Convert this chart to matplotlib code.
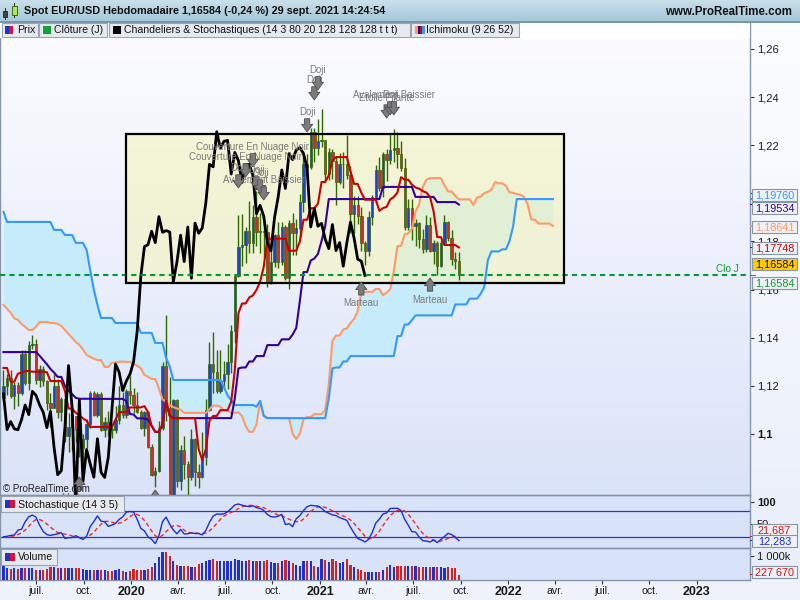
import numpy as np
import pandas as pd
import matplotlib
matplotlib.use('Agg')
import matplotlib.pyplot as plt
import matplotlib.dates as mdates
from matplotlib.patches import Rectangle
from matplotlib.colors import LinearSegmentedColormap

plt.rcParams['font.family'] = ['Liberation Sans', 'DejaVu Sans']

# ---------------- data (weekly EUR/USD) ----------------
first_week = '2019-04-29'
opens = [
    1.1150, 1.1200, 1.1234, 1.1157, 1.1204, 1.1169, 1.1333, 1.1210, 1.1369, 1.1372,
    1.1226, 1.1271, 1.1219, 1.1127, 1.1108, 1.1199, 1.1091, 1.1143, 1.0990, 1.1029,
    1.1075, 1.1017, 1.0940, 1.0979, 1.1040, 1.1172, 1.1080, 1.1166, 1.1018, 1.1051,
    1.1021, 1.1017, 1.1059, 1.1120, 1.1080, 1.1177, 1.1160, 1.1120, 1.1090, 1.1026,
    1.1093, 1.0944, 1.0830, 1.0847, 1.1026, 1.1284, 1.1106, 1.0694, 1.1141, 1.0803,
    1.0935, 1.0875, 1.0820, 1.0980, 1.0840, 1.0819, 1.0902, 1.1100, 1.1290, 1.1256,
    1.1180, 1.1220, 1.1248, 1.1300, 1.1428, 1.1656, 1.1778, 1.1787, 1.1842, 1.1795,
    1.1903, 1.1838, 1.1845, 1.1839, 1.1633, 1.1715, 1.1826, 1.1716, 1.1860, 1.1647,
    1.1876, 1.1834, 1.1856, 1.1962, 1.2121, 1.2110, 1.2256, 1.2187, 1.2216, 1.2220,
    1.2080, 1.2170, 1.2136, 1.2045, 1.2120, 1.2120, 1.2075, 1.1915, 1.1950, 1.1905,
    1.1795, 1.1761, 1.1900, 1.1985, 1.2097, 1.2020, 1.2165, 1.2140, 1.2180, 1.2190,
    1.2165, 1.2105, 1.1860, 1.1937, 1.1863, 1.1875, 1.1810, 1.1770, 1.1870, 1.1762,
    1.1795, 1.1697, 1.1795, 1.1880, 1.1814, 1.1726, 1.1718]
highs = [
    1.1265, 1.1250, 1.1264, 1.1215, 1.1215, 1.1348, 1.1348, 1.1385, 1.1412, 1.1393,
    1.1286, 1.1282, 1.1225, 1.1168, 1.1250, 1.1230, 1.1153, 1.1165, 1.1085, 1.1110,
    1.1075, 1.1025, 1.0998, 1.1063, 1.1179, 1.1179, 1.1176, 1.1175, 1.1069, 1.1097,
    1.1034, 1.1116, 1.1200, 1.1176, 1.1188, 1.1239, 1.1191, 1.1173, 1.1100, 1.1096,
    1.1095, 1.0960, 1.0863, 1.1053, 1.1300, 1.1495, 1.1236, 1.1147, 1.1145, 1.0953,
    1.0990, 1.0887, 1.1019, 1.0981, 1.0876, 1.1009, 1.1147, 1.1384, 1.1422, 1.1349,
    1.1349, 1.1303, 1.1372, 1.1452, 1.1659, 1.1908, 1.1916, 1.1860, 1.1966, 1.1950,
    1.2011, 1.1917, 1.1900, 1.1872, 1.1780, 1.1831, 1.1880, 1.1881, 1.1870, 1.1891,
    1.1920, 1.1894, 1.1997, 1.2177, 1.2163, 1.2273, 1.2272, 1.2310, 1.2349, 1.2223,
    1.2190, 1.2185, 1.2149, 1.2169, 1.2170, 1.2243, 1.2114, 1.1990, 1.1990, 1.1945,
    1.1800, 1.1928, 1.1994, 1.2117, 1.2150, 1.2173, 1.2183, 1.2245, 1.2266, 1.2254,
    1.2218, 1.2145, 1.1975, 1.1975, 1.1895, 1.1880, 1.1850, 1.1909, 1.1900, 1.1806,
    1.1802, 1.1806, 1.19088, 1.1885, 1.1849, 1.1754, 1.1755]
lows = [
    1.1135, 1.1160, 1.1150, 1.1105, 1.1116, 1.1160, 1.1202, 1.1181, 1.1351, 1.1208,
    1.1193, 1.1201, 1.1101, 1.1027, 1.1108, 1.1066, 1.1052, 1.0965, 1.0926, 1.0927,
    1.0966, 1.0904, 1.0879, 1.0940, 1.1025, 1.1073, 1.1070, 1.1013, 1.0989, 1.0993,
    1.0981, 1.1003, 1.1040, 1.1065, 1.1066, 1.1125, 1.1086, 1.1085, 1.1019, 1.0992,
    1.0940, 1.0827, 1.0778, 1.0840, 1.1015, 1.1055, 1.0654, 1.0636, 1.0780, 1.0768,
    1.0812, 1.0727, 1.0810, 1.0782, 1.0775, 1.0815, 1.0870, 1.1095, 1.1168, 1.1168,
    1.1168, 1.1185, 1.1186, 1.1254, 1.1376, 1.1653, 1.1696, 1.1711, 1.1752, 1.1753,
    1.1782, 1.1752, 1.1737, 1.1612, 1.1625, 1.1695, 1.1689, 1.1703, 1.1640, 1.1603,
    1.1745, 1.1745, 1.1800, 1.1923, 1.2058, 1.2100, 1.2130, 1.2160, 1.2192, 1.2054,
    1.2055, 1.2058, 1.1952, 1.2040, 1.2023, 1.2060, 1.1835, 1.1836, 1.1874, 1.1762,
    1.1704, 1.1741, 1.1868, 1.1961, 1.2010, 1.1985, 1.2051, 1.2122, 1.2130, 1.2104,
    1.2093, 1.1847, 1.1848, 1.1806, 1.1782, 1.1772, 1.1752, 1.1755, 1.1754, 1.1705,
    1.1661, 1.1692, 1.1792, 1.1801, 1.1700, 1.1684, 1.16408]
closes = [
    1.1200, 1.1234, 1.1157, 1.1204, 1.1169, 1.1333, 1.1210, 1.1369, 1.1372, 1.1226,
    1.1271, 1.1219, 1.1127, 1.1108, 1.1199, 1.1091, 1.1143, 1.0990, 1.1029, 1.1075,
    1.1017, 1.0940, 1.0979, 1.1040, 1.1172, 1.1080, 1.1166, 1.1018, 1.1051, 1.1021,
    1.1017, 1.1059, 1.1120, 1.1080, 1.1177, 1.1160, 1.1120, 1.1090, 1.1026, 1.1093,
    1.0944, 1.0830, 1.0847, 1.1026, 1.1284, 1.1106, 1.0694, 1.1141, 1.0803, 1.0935,
    1.0875, 1.0820, 1.0980, 1.0840, 1.0819, 1.0902, 1.1100, 1.1290, 1.1256, 1.1180,
    1.1220, 1.1248, 1.1300, 1.1428, 1.1656, 1.1778, 1.1787, 1.1842, 1.1795, 1.1903,
    1.1838, 1.1845, 1.1839, 1.1633, 1.1715, 1.1826, 1.1716, 1.1860, 1.1647, 1.1876,
    1.1834, 1.1856, 1.1962, 1.2121, 1.2110, 1.2256, 1.2187, 1.2216, 1.2220, 1.2080,
    1.2170, 1.2136, 1.2045, 1.2120, 1.2120, 1.2075, 1.1915, 1.1950, 1.1905, 1.1795,
    1.1761, 1.1900, 1.1985, 1.2097, 1.2020, 1.2165, 1.2140, 1.2180, 1.2190, 1.2165,
    1.2105, 1.1860, 1.1937, 1.1863, 1.1875, 1.1810, 1.1770, 1.1870, 1.1762, 1.1795,
    1.1697, 1.1795, 1.1880, 1.1814, 1.1726, 1.1718, 1.16584]
volumes = [
    583000, 486000, 458000, 486000, 444000, 514000, 514000, 486000, 514000, 417000,
    417000, 417000, 444000, 556000, 528000, 486000, 514000, 514000, 514000, 514000,
    514000, 500000, 444000, 417000, 417000, 417000, 417000, 417000, 417000, 389000,
    375000, 417000, 444000, 389000, 319000, 375000, 444000, 417000, 417000, 417000,
    444000, 556000, 722000, 972000, 1181000, 1181000, 1000000, 806000, 625000, 583000,
    583000, 583000, 556000, 528000, 667000, 722000, 792000, 833000, 861000, 806000,
    778000, 792000, 806000, 806000, 875000, 833000, 806000, 806000, 833000, 806000,
    806000, 778000, 806000, 833000, 764000, 722000, 722000, 806000, 833000, 806000,
    694000, 625000, 583000, 806000, 806000, 778000, 583000, 556000, 861000, 833000,
    764000, 861000, 806000, 722000, 764000, 861000, 625000, 528000, 444000, 417000,
    347000, 347000, 347000, 347000, 347000, 417000, 556000, 625000, 556000, 583000,
    583000, 583000, 583000, 583000, 583000, 556000, 528000, 528000, 528000, 528000,
    528000, 528000, 514000, 528000, 500000, 486000, 227670]

tenkan_early = [1.1274, 1.1274, 1.1217, 1.1217, 1.1250, 1.1255, 1.1260, 1.1262]
kijun_early = [1.1340, 1.1340, 1.1340, 1.1340, 1.1340, 1.1340, 1.1340, 1.1340, 1.1340, 1.1340,
               1.1325, 1.1307, 1.1290, 1.1270, 1.1255, 1.1237, 1.1237, 1.1200, 1.1180, 1.1165,
               1.1150, 1.1146, 1.1146, 1.1146, 1.1146]
span_a_early = [1.1536, 1.1520, 1.1503, 1.1480, 1.1474, 1.1457, 1.1445, 1.1432, 1.1432, 1.1445,
                1.1465, 1.1465, 1.1465, 1.1461, 1.1461, 1.1457, 1.1449, 1.1432, 1.1415, 1.1399,
                1.1382, 1.1370, 1.1350, 1.1328, 1.1320, 1.1312]
span_b_early = [1.1923,
                1.1881, 1.1881, 1.1881, 1.1881, 1.1881, 1.1881, 1.1881, 1.1881, 1.1881, 1.1881,
                1.1881, 1.1881, 1.1881,
                1.1848, 1.1848, 1.1848, 1.1827, 1.1827, 1.1827, 1.1794, 1.1794, 1.1794,
                1.1765, 1.1680, 1.1600, 1.1536,
                1.1482, 1.1482, 1.1482, 1.1482,
                1.1461, 1.1461, 1.1461, 1.1461, 1.1461, 1.1461, 1.1461,
                1.1420, 1.1420, 1.1420, 1.1420, 1.1378, 1.1378, 1.1378, 1.1316, 1.1280,
                1.1224, 1.1224, 1.1224, 1.1224, 1.1224, 1.1224, 1.1224, 1.1224, 1.1224, 1.1224,
                1.1224, 1.1224, 1.1224, 1.1224,
                1.1195, 1.1160, 1.1140, 1.1120, 1.1120, 1.1120, 1.1120, 1.1120, 1.1120,
                1.1113, 1.1137, 1.1075, 1.1066, 1.1066, 1.1066, 1.1066]
stoch_k_early = [21, 22, 24, 25, 36, 38, 55, 66, 70, 65, 47, 33, 26, 24, 26]
stoch_d_early = [21, 21, 22, 23, 26, 30, 36, 45, 54, 60, 60, 56, 50, 43, 36, 31, 28, 27, 26]

# patterns: (week index, arrow tip price, label, direction)
patterns = [
    (84, 1.2255, 'Doji', 'down'),
    (86, 1.2388, 'Doji', 'down'),
    (87, 1.2430, 'Doji', 'down'),
    (106, 1.2313, 'Etoile Filante', 'down'),
    (107, 1.2326, 'Doji', 'down'),
    (108, 1.2326, 'Avalement Baissier', 'down'),
    (65, 1.2022, 'Doji', 'down'),
    (67, 1.2068, 'Couverture En Nuage Noir', 'down'),
    (69, 1.2110, 'Couverture En Nuage Noir', 'down'),
    (70, 1.2014, 'Doji', 'down'),
    (71, 1.2001, 'Doji', 'down'),
    (72, 1.1972, 'Avalement Baissier', 'down'),
    (99, 1.1632, 'Marteau', 'up'),
    (118, 1.1648, 'Marteau', 'up'),
    (21, 1.0821, 'Marteau', 'up'),
    (42, 1.0767, 'Marteau', 'up'),
]
box_dates = ('2019-12-23', '2022-04-18')
box_prices = (1.1627, 1.2247)

tick_dates = ['2019-07-01', '2019-10-01', '2020-01-01', '2020-04-01', '2020-07-01', '2020-10-01',
              '2021-01-01', '2021-04-01', '2021-07-01', '2021-10-01', '2022-01-01', '2022-04-01',
              '2022-07-01', '2022-10-01', '2023-01-01']
tick_labels = ['juil.', 'oct.', '2020', 'avr.', 'juil.', 'oct.', '2021', 'avr.', 'juil.', 'oct.',
               '2022', 'avr.', 'juil.', 'oct.', '2023']

# ---------------- indicators ----------------
O = np.array(opens); Hh = np.array(highs); Ll = np.array(lows); C = np.array(closes)
n = len(C)
m = n + 26

def midpoint(i, p):
    return (Hh[i - p + 1:i + 1].max() + Ll[i - p + 1:i + 1].min()) / 2

tenkan = np.array([tenkan_early[i] if i < 8 else midpoint(i, 9) for i in range(n)])
kijun = np.array([kijun_early[i] if i < 25 else midpoint(i, 26) for i in range(n)])
span_a = np.array([span_a_early[j] if j < 26 else (tenkan[j - 26] + kijun[j - 26]) / 2 for j in range(m)])
span_b = np.array([span_b_early[j] if j < 77 else midpoint(j - 26, 52) for j in range(m)])

raw = np.full(n, np.nan)
for i in range(13, n):
    hh = Hh[i - 13:i + 1].max(); ll = Ll[i - 13:i + 1].min()
    raw[i] = 100 * (C[i] - ll) / (hh - ll)
stoch_k = np.array([stoch_k_early[i] if i < 15 else raw[i - 2:i + 1].mean() for i in range(n)], dtype=float)
stoch_d = np.array([stoch_d_early[i] if i < 19 else stoch_k[i - 4:i + 1].mean() for i in range(n)], dtype=float)

x = mdates.date2num(pd.date_range(first_week, periods=n, freq='7D').to_pydatetime())
x_ab = mdates.date2num(pd.date_range(first_week, periods=m, freq='7D').to_pydatetime())

# ---------------- figure ----------------
W, HP = 800.0, 600.0
fig = plt.figure(figsize=(8, 6), dpi=100)
fig.patch.set_facecolor('#eef2fa')

def px_axes(x0, y0, x1, y1, **kw):
    return fig.add_axes([x0 / W, 1 - y1 / HP, (x1 - x0) / W, (y1 - y0) / HP], **kw)

def grad_axes(x0, y0, x1, y1, top, bottom):
    a = px_axes(x0, y0, x1, y1)
    cmap = LinearSegmentedColormap.from_list('g', [bottom, top])
    a.imshow(np.linspace(0, 1, 256).reshape(-1, 1), cmap=cmap, aspect='auto',
             origin='lower', extent=[0, 1, 0, 1])
    a.set_axis_off()
    return a

def frect(x0, y0, x1, y1, **kw):
    r = Rectangle((x0 / W, 1 - y1 / HP), (x1 - x0) / W, (y1 - y0) / HP,
                  transform=fig.transFigure, **kw)
    fig.patches.append(r)
    return r

def ftext(xp, yp, s, **kw):
    return fig.text(xp / W, 1 - yp / HP, s, **kw)

grad_axes(0, 22, 750, 495, '#fdfdff', '#dbe3f9')
grad_axes(0, 495, 750, 580, '#dae4f9', '#d8e2f8')
grad_axes(750, 22, 800, 580, '#fcfdff', '#e8eefa')
grad_axes(0, 0, 800, 22, '#c9e0ea', '#a3c7d8')

ax = px_axes(0, 22, 750, 495)
ax_s = px_axes(0, 495, 750, 548)
ax_v = px_axes(0, 548, 750, 580)
spine_col = '#8596aa'
for a in (ax, ax_s, ax_v):
    a.set_facecolor('none')
    for s in a.spines.values():
        s.set_color(spine_col)
        s.set_linewidth(1.0)
ax.spines['top'].set_visible(False)

# cloud
ax.fill_between(x_ab, span_a, span_b, color='#c6ecfc', lw=0, zorder=1)
# box
bx0, bx1 = mdates.date2num(pd.Timestamp(box_dates[0])), mdates.date2num(pd.Timestamp(box_dates[1]))
ax.add_patch(Rectangle((bx0, box_prices[0]), bx1 - bx0, box_prices[1] - box_prices[0],
                       facecolor='#f4f4bc', alpha=0.6, lw=0, zorder=2))
# candles
up = C >= O
wick = '#2e6a00'
ax.vlines(x, Ll, Hh, color=wick, lw=1.0, zorder=3)
body = np.where(np.abs(C - O) < 1e-9, 0.00012, C - O)
ax.bar(x, body, bottom=O, width=4.6, color=['#1f3fd6' if u else '#d62a2a' for u in up],
       edgecolor=wick, linewidth=0.5, zorder=3.2)
# ichimoku lines
ax.plot(x_ab, span_a, color='#ff9966', lw=1.5, zorder=4)
ax.plot(x_ab, span_b, color='#3399ff', lw=1.5, zorder=4)
ax.plot(x, kijun, color='#330099', lw=1.5, zorder=4.1)
ax.plot(x, tenkan, color='#cc0000', lw=1.5, zorder=4.1)
ax.plot(x[:n - 26], C[26:], color='black', lw=2.0, zorder=4.3)
ax.add_patch(Rectangle((bx0, box_prices[0]), bx1 - bx0, box_prices[1] - box_prices[0],
                       fill=False, edgecolor='black', lw=1.6, zorder=4.5))
ax.axhline(C[-1], color='#009933', lw=1.5, ls=(0, (2.5, 2.0)), zorder=4.4)

# candle pattern markers
for idx, tip, label, d in patterns:
    sgn = 1 if d == 'down' else -1
    ann = ax.annotate('', xy=(x[idx], tip), xytext=(0, sgn * 9.5), textcoords='offset points',
                      arrowprops=dict(arrowstyle='simple,head_length=0.55,head_width=0.8,tail_width=0.38',
                                      fc='#7c7c7c', ec='#4d4d4d', lw=0.6, mutation_scale=10,
                                      shrinkA=0, shrinkB=0),
                      zorder=6, annotation_clip=True)
    ann.arrow_patch.set_clip_path(ax.patch)
    ax.annotate(label, xy=(x[idx], tip), xytext=(0, sgn * (14.6 if d == 'down' else 15.5)),
                textcoords='offset points', ha='center', va='center', fontsize=6.9,
                color='#7a7a7a', zorder=6, clip_on=True)

# limits
xl = (mdates.date2num(pd.Timestamp('2019-04-22 07:00')), mdates.date2num(pd.Timestamp('2023-04-13 17:00')))
for a in (ax, ax_s, ax_v):
    a.set_xlim(*xl)
ax.set_ylim(1.0746, 1.2712)

# stochastic
ax_s.axhline(80, color='#2b35c8', lw=0.9, zorder=2)
ax_s.axhline(20, color='#2b35c8', lw=0.9, zorder=2)
ax_s.plot(x, stoch_d, color='#f02828', lw=1.0, ls=(0, (3, 2)), zorder=3)
ax_s.plot(x, stoch_k, color='#1c2ce0', lw=1.0, zorder=4)
ax_s.set_ylim(-4.3, 115.3)

# volume
ax_v.bar(x, volumes, width=4.3, color=['#1f2fd8' if u else '#d82222' for u in up], lw=0, zorder=3)
ax_v.set_ylim(0, 1.333e6)

# right axis ticks
def fmt_price(v):
    return ('%.2f' % v).rstrip('0').rstrip('.').replace('.', ',')

yt = [1.10, 1.12, 1.14, 1.16, 1.18, 1.20, 1.22, 1.24, 1.26]
for a in (ax, ax_s, ax_v):
    a.yaxis.tick_right()
    a.tick_params(axis='y', direction='out', length=3, width=0.8, color='#333333', pad=2,
                  labelsize=8, labelcolor='#1a1a1a')
ax.set_yticks(yt)
# the 1,2 label sits entirely under the value boxes, as in the original
labs = ax.set_yticklabels(['' if abs(v - 1.2) < 1e-9 else fmt_price(v) for v in yt])
for t, v in zip(labs, yt):
    if abs(v - 1.1) < 1e-9:
        t.set_fontweight('bold')
ax_s.set_yticks([50, 100])
sl = ax_s.set_yticklabels(['50', '100'])
sl[1].set_fontweight('bold')
ax_v.set_yticks([1e6])
ax_v.set_yticklabels(['1 000k'])

for a in (ax, ax_s):
    a.set_xticks([])
td = [mdates.date2num(pd.Timestamp(d)) for d in tick_dates]
ax_v.set_xticks(td)
xlabs = ax_v.set_xticklabels(tick_labels)
for t in xlabs:
    if t.get_text().isdigit():
        t.set_fontweight('bold'); t.set_fontsize(9)
    else:
        t.set_fontsize(7.6)
ax_v.tick_params(axis='x', direction='out', length=3, width=0.8, color='#333333', pad=1.5,
                 labelcolor='#1a1a1a')

# ---------------- overlays ----------------
# legend row
frect(0, 22, 750, 37.5, facecolor='white', edgecolor='none')
box_face, box_edge = '#e6eaf0', '#9aa5b1'
items = [(2, 38, 'Prix'), (39, 107, 'Clôture (J)'),
         (109, 410, 'Chandeliers & Stochastiques (14 3 80 20 128 128 128 t t t)'),
         (411, 519, 'Ichimoku (9 26 52)')]
for k, (a0, a1, s) in enumerate(items):
    frect(a0, 23, a1, 37, facecolor=box_face, edgecolor=box_edge, lw=0.8)
    ix = a0 + 3
    if k == 0:
        frect(ix, 26, ix + 4, 34, facecolor='#2233cc', edgecolor='none')
        frect(ix + 4, 26, ix + 8, 34, facecolor='#dd1133', edgecolor='none')
    elif k == 1:
        frect(ix + 1, 26, ix + 9, 34, facecolor='#12a03a', edgecolor='none')
    elif k == 2:
        frect(ix + 1, 26, ix + 9, 34, facecolor='black', edgecolor='none')
    else:
        for q, c in enumerate(['#ff9966', '#330099', '#cc0000', '#3399ff']):
            frect(ix + 1 + 2.5 * q, 26, ix + 3.5 + 2.5 * q, 34, facecolor=c, edgecolor='none')
    ftext(ix + 12, 30, s, fontsize=7.6, va='center', color='#111111')

# title bar
frect(0, 21.5, 800, 22.5, facecolor='#7d95a8', edgecolor='none')
frect(4.5, 8, 5.5, 20, facecolor='#333333', edgecolor='none')
frect(3, 11, 7, 17, facecolor='#444444', edgecolor='#222222', lw=0.6)
frect(13.5, 3, 14.5, 18, facecolor='#333333', edgecolor='none')
frect(11.5, 6, 16.5, 15, facecolor='#aee85a', edgecolor='#335500', lw=0.6)
ftext(24, 11.5, 'Spot EUR/USD Hebdomadaire 1,16584 (-0,24 %) 29 sept. 2021 14:24:54',
      fontsize=7.8, fontweight='bold', va='center', color='#111111')
ftext(792, 12, 'www.ProRealTime.com', fontsize=8.3, fontweight='bold', va='center',
      ha='right', color='#111111')

# right axis vertical line
frect(749.5, 22, 750.5, 580, facecolor=spine_col, edgecolor='none')

# copyright & Clo J
ftext(3, 489, '© ProRealTime.com', fontsize=7, va='center', color='#222222')
ftext(716, 269, 'Clo J', fontsize=7.2, va='center', color='#119933')

# sub panel labels
for (y0, y1, s, a1) in [(496, 512, 'Stochastique (14 3 5)', 124), (549, 565, 'Volume', 57)]:
    frect(1, y0, a1, y1, facecolor=box_face, edgecolor=box_edge, lw=0.8)
    frect(5, y0 + 4, 10, y1 - 4, facecolor='#2233cc', edgecolor='none')
    frect(10, y0 + 4, 15, y1 - 4, facecolor='#dd1133', edgecolor='none')
    ftext(18, (y0 + y1) / 2 + 0.5, s, fontsize=7.6, va='center', color='#111111')

# value boxes on the right axis
def px_y(a, v):
    return HP - a.transData.transform((xl[0], v))[1]

def value_box(a, v, text, color, shift, face='#eef1f6'):
    yv = px_y(a, v)
    frect(750, yv - 0.6, 756, yv + 0.6, facecolor=color if color != '#111111' else 'black', edgecolor='none')
    yc = yv + shift
    frect(752, yc - 6.3, 797, yc + 6.3, facecolor=face, edgecolor='#8594a6', lw=0.8)
    ftext(774.5, yc + 0.5, text, fontsize=7.8, ha='center', va='center', color=color)

def f5(v):
    return ('%.5f' % v).replace('.', ',')

value_box(ax, span_b[-1], f5(span_b[-1]), '#3399ff', -4)
value_box(ax, kijun[-1], f5(kijun[-1]), '#330099', 3.6)
value_box(ax, span_a[-1], f5(span_a[-1]), '#ff9966', 1)
value_box(ax, tenkan[-1], f5(tenkan[-1]), '#cc0000', 0.5)
value_box(ax, C[-1], f5(C[-1]), '#111111', -11.6, face='#ffcc00')
value_box(ax, C[-1], f5(C[-1]), '#119933', 7.4)
value_box(ax_s, stoch_d[-1], ('%.3f' % stoch_d[-1]).replace('.', ','), '#dd1111', -6.5)
value_box(ax_s, stoch_k[-1], ('%.3f' % stoch_k[-1]).replace('.', ','), '#1c2ce0', 0.4)
value_box(ax_v, volumes[-1], '{:,}'.format(volumes[-1]).replace(',', ' '), '#dd1111', -2.5)

fig.savefig('out.png', dpi=100)
